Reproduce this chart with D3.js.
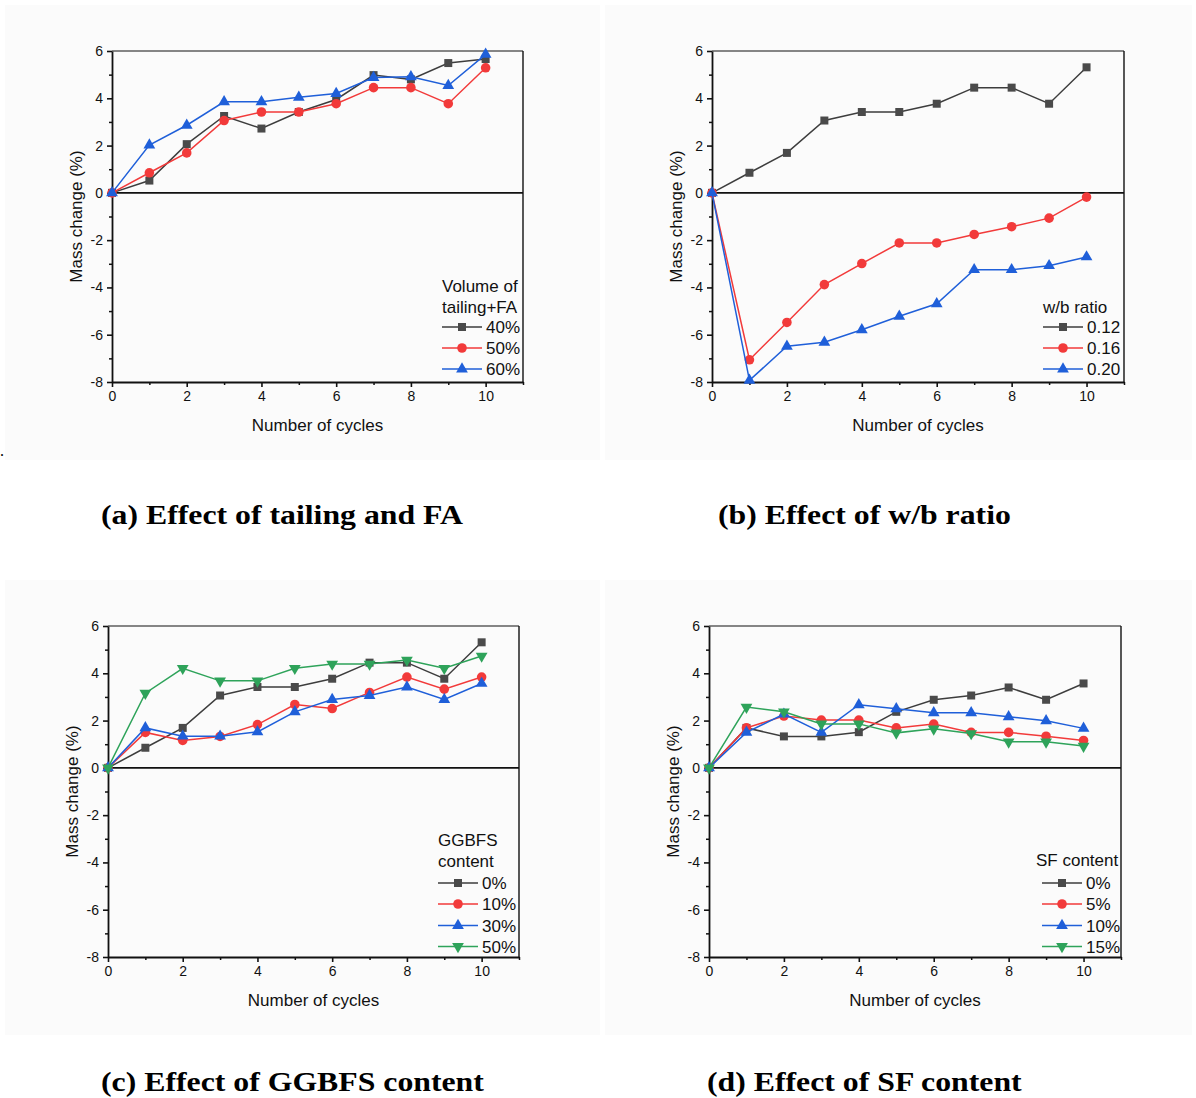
<!DOCTYPE html>
<html>
<head>
<meta charset="utf-8">
<script src="https://cdn.jsdelivr.net/npm/d3@7"></script>
<style>
  html, body { margin: 0; padding: 0; background: #ffffff; }
  svg { display: block; }
</style>
</head>
<body>
<svg id="fig" width="1196" height="1098"></svg>
<script>
// Freeze–thaw cycles on the x axis
const cycles = [0, 1, 2, 3, 4, 5, 6, 7, 8, 9, 10];
const xTicks = [0, 2, 4, 6, 8, 10];
const yTicks = [-8, -6, -4, -2, 0, 2, 4, 6];

// (a) volume of tailing + FA
const tailingLabels = ["40%", "50%", "60%"];
const tailing40 = [0, 0.52, 2.06, 3.25, 2.72, 3.42, 3.95, 4.98, 4.80, 5.49, 5.66];
const tailing50 = [0, 0.85, 1.69, 3.06, 3.42, 3.42, 3.77, 4.45, 4.45, 3.77, 5.29];
const tailing60 = [0, 2.02, 2.86, 3.85, 3.85, 4.04, 4.20, 4.88, 4.91, 4.54, 5.86];

// (b) water/binder ratio
const wbLabels = ["0.12", "0.16", "0.20"];
const wb012 = [0, 0.85, 1.69, 3.06, 3.42, 3.42, 3.77, 4.45, 4.45, 3.77, 5.31];
const wb016 = [0, -7.06, -5.48, -3.88, -2.99, -2.12, -2.12, -1.76, -1.43, -1.07, -0.18];
const wb020 = [0, -7.93, -6.49, -6.32, -5.79, -5.22, -4.69, -3.25, -3.25, -3.08, -2.71];

// (c) GGBFS content
const ggbfsLabels = ["0%", "10%", "30%", "50%"];
const ggbfs0 = [0, 0.85, 1.69, 3.06, 3.42, 3.42, 3.77, 4.45, 4.45, 3.77, 5.31];
const ggbfs10 = [0, 1.50, 1.16, 1.33, 1.83, 2.68, 2.51, 3.19, 3.84, 3.33, 3.84];
const ggbfs30 = [0, 1.69, 1.34, 1.34, 1.52, 2.37, 2.89, 3.06, 3.42, 2.89, 3.57];
const ggbfs50 = [0, 3.16, 4.21, 3.68, 3.68, 4.21, 4.39, 4.39, 4.56, 4.21, 4.73];

// (d) SF content
const sfLabels = ["0%", "5%", "10%", "15%"];
const sf0 = [0, 1.69, 1.33, 1.33, 1.51, 2.37, 2.88, 3.06, 3.40, 2.88, 3.57];
const sf5 = [0, 1.69, 2.19, 2.02, 2.02, 1.69, 1.85, 1.50, 1.50, 1.34, 1.16];
const sf10 = [0, 1.50, 2.27, 1.50, 2.67, 2.50, 2.33, 2.33, 2.16, 1.99, 1.67];
const sf15 = [0, 2.57, 2.37, 1.86, 1.86, 1.48, 1.65, 1.45, 1.10, 1.10, 0.92];

const styles = [
  { line: "#3d3d3d", fill: "#4a4a4a", symbol: d3.symbolSquare, size: 64, rot: 0 },
  { line: "#f23a3a", fill: "#f23a3a", symbol: d3.symbolCircle, size: 72, rot: 0 },
  { line: "#1f5fd9", fill: "#1f5fd9", symbol: d3.symbolTriangle, size: 60, rot: 0 },
  { line: "#2ea35a", fill: "#2ea35a", symbol: d3.symbolTriangle, size: 60, rot: 180 }
];

const panels = [
  { box: [112, 51, 523, 382], bg: [5, 5, 600, 460], series: [tailing40, tailing50, tailing60], labels: tailingLabels,
    title: ["Volume of", "tailing+FA"], titleX: 442, titleY: [292, 313], legX: 442, legY: [327, 348, 369],
    caption: "(a) Effect of tailing and FA", capX: 101, capY: 524 },
  { box: [712, 51, 1124, 382], bg: [605, 5, 1192, 460], series: [wb012, wb016, wb020], labels: wbLabels,
    title: ["w/b ratio"], titleX: 1043, titleY: [313], legX: 1043, legY: [327, 348, 369],
    caption: "(b) Effect of w/b ratio", capX: 718, capY: 524 },
  { box: [108, 626, 519, 957], bg: [5, 580, 600, 1035], series: [ggbfs0, ggbfs10, ggbfs30, ggbfs50], labels: ggbfsLabels,
    title: ["GGBFS", "content"], titleX: 438, titleY: [846, 867], legX: 438, legY: [883, 904, 925.5, 946.5],
    caption: "(c) Effect of GGBFS content", capX: 101, capY: 1091 },
  { box: [709, 626, 1121, 957], bg: [605, 580, 1192, 1035], series: [sf0, sf5, sf10, sf15], labels: sfLabels,
    title: ["SF content"], titleX: 1036, titleY: [866], legX: 1042, legY: [883, 904, 925.5, 946.5],
    caption: "(d) Effect of SF content", capX: 707, capY: 1091 }
];

const svg = d3.select("#fig");
const sans = "'Liberation Sans', Arial, sans-serif";
const serif = "'Liberation Serif', 'Times New Roman', serif";
const plainNum = d => String(d);

panels.forEach(p => {
  const [x0, y0, x1, y1] = p.box;
  const [bx0, by0, bx1, by1] = p.bg;
  svg.append("rect").attr("x", bx0).attr("y", by0).attr("width", bx1 - bx0).attr("height", by1 - by0)
    .attr("fill", "#fbfbfb");

  const x = d3.scaleLinear().domain([0, 11]).range([x0, x1]);
  const y = d3.scaleLinear().domain([-8, 6]).range([y1, y0]);
  const g = svg.append("g");

  // frame: top and right borders
  g.append("line").attr("x1", x0).attr("x2", x1).attr("y1", y0).attr("y2", y0)
    .attr("stroke", "#111").attr("stroke-width", 1.2);
  g.append("line").attr("x1", x1).attr("x2", x1).attr("y1", y0).attr("y2", y1)
    .attr("stroke", "#111").attr("stroke-width", 1.4);

  // zero reference line
  g.append("line").attr("x1", x0).attr("x2", x1).attr("y1", y(0)).attr("y2", y(0))
    .attr("stroke", "#111").attr("stroke-width", 1.6);

  // minor ticks
  const minorY = d3.axisLeft(y).tickValues([-7, -5, -3, -1, 1, 3, 5]).tickSize(3).tickFormat("");
  const minorX = d3.axisBottom(x).tickValues([1, 3, 5, 7, 9, 11]).tickSize(3).tickFormat("");
  g.append("g").attr("transform", `translate(${x0},0)`).call(minorY)
    .call(s => s.select(".domain").remove())
    .call(s => s.selectAll("line").attr("stroke", "#111").attr("stroke-width", 1.5));
  g.append("g").attr("transform", `translate(0,${y1})`).call(minorX)
    .call(s => s.select(".domain").remove())
    .call(s => s.selectAll("line").attr("stroke", "#111").attr("stroke-width", 1.5));

  // major axes
  const yAxis = d3.axisLeft(y).tickValues(yTicks).tickFormat(plainNum).tickSize(5).tickSizeOuter(0).tickPadding(4);
  const xAxis = d3.axisBottom(x).tickValues(xTicks).tickFormat(plainNum).tickSize(5).tickSizeOuter(0).tickPadding(4);
  const yg = g.append("g").attr("transform", `translate(${x0},0)`).call(yAxis)
    .attr("font-family", sans).attr("font-size", 14);
  const xg = g.append("g").attr("transform", `translate(0,${y1})`).call(xAxis)
    .attr("font-family", sans).attr("font-size", 14);
  [yg, xg].forEach(a => {
    a.select(".domain").attr("stroke", "#111").attr("stroke-width", 1.8);
    a.selectAll(".tick line").attr("stroke", "#111").attr("stroke-width", 1.6);
    a.selectAll(".tick text").attr("fill", "#111").style("font-size", "14px");
  });

  // axis titles
  g.append("text").attr("x", (x0 + x1) / 2).attr("y", y1 + 49)
    .attr("text-anchor", "middle").attr("font-family", sans).attr("font-size", 17).attr("fill", "#111")
    .text("Number of cycles");
  g.append("text")
    .attr("transform", `translate(${x0 - 30},${(y0 + y1) / 2}) rotate(-90)`)
    .attr("text-anchor", "middle").attr("font-family", sans).attr("font-size", 17).attr("fill", "#111")
    .text("Mass change (%)");

  // series
  const line = d3.line().x((d, i) => x(cycles[i])).y(d => y(d));
  p.series.forEach((vals, k) => {
    const st = styles[k];
    g.append("path").datum(vals).attr("d", line)
      .attr("fill", "none").attr("stroke", st.line).attr("stroke-width", 1.5);
    g.selectAll(null).data(vals).enter().append("path")
      .attr("d", d3.symbol().type(st.symbol).size(st.size))
      .attr("transform", (d, i) => `translate(${x(cycles[i])},${y(d)}) rotate(${st.rot})`)
      .attr("fill", st.fill);
  });

  // legend
  p.title.forEach((t, i) => {
    g.append("text").attr("x", p.titleX).attr("y", p.titleY[i])
      .attr("font-family", sans).attr("font-size", 17).attr("fill", "#111").text(t);
  });
  p.labels.forEach((lab, k) => {
    const st = styles[k];
    const ly = p.legY[k];
    g.append("line").attr("x1", p.legX).attr("x2", p.legX + 40).attr("y1", ly).attr("y2", ly)
      .attr("stroke", st.line).attr("stroke-width", 1.5);
    g.append("path").attr("d", d3.symbol().type(st.symbol).size(st.size))
      .attr("transform", `translate(${p.legX + 20},${ly}) rotate(${st.rot})`).attr("fill", st.fill);
    g.append("text").attr("x", p.legX + 44).attr("y", ly + 6)
      .attr("font-family", sans).attr("font-size", 17).attr("fill", "#111").text(lab);
  });

  // caption, set slightly wide
  svg.append("text").attr("transform", `translate(${p.capX},${p.capY}) scale(1.135,1)`)
    .attr("font-family", serif).attr("font-weight", "bold").attr("font-size", 28).attr("fill", "#000")
    .text(p.caption);
});

// stray full stop at the left margin of the first row
svg.append("text").attr("x", 0).attr("y", 456).attr("font-family", serif).attr("font-size", 16).text(".");
</script>
</body>
</html>
